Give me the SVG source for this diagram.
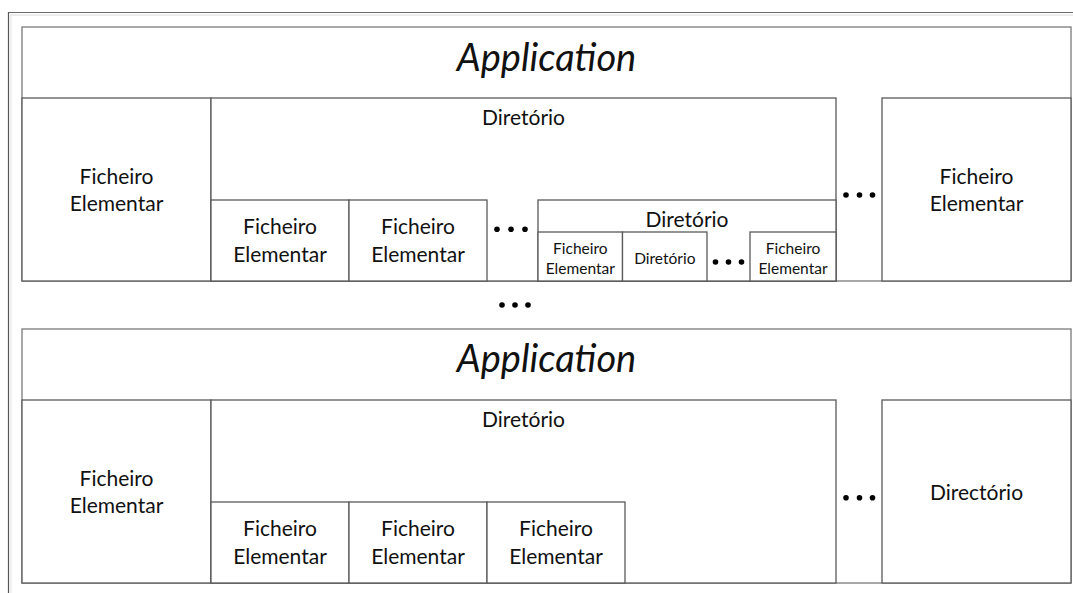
<svg xmlns="http://www.w3.org/2000/svg" width="1073" height="593" viewBox="0 0 1073 593">
<style>
.bx{fill:#fff;stroke:#5a5a5a;stroke-width:1.3}
.app{fill:#fff;stroke:#7a7a7a;stroke-width:1.3}
.t{font-family:Lato,"Liberation Sans",sans-serif;font-size:21px;fill:#111;text-anchor:middle}
.s{font-family:Lato,"Liberation Sans",sans-serif;font-size:15.5px;fill:#111;text-anchor:middle}
.a{font-family:Lato,"Liberation Sans",sans-serif;font-size:38px;font-style:italic;fill:#111;text-anchor:middle}
.d{fill:#000}
</style>
<rect width="1073" height="593" fill="#fff"/>
<g id="frame">
<line x1="8" y1="12.5" x2="1073" y2="12.5" stroke="#6a6a6a" stroke-width="1.2"/>
<line x1="10" y1="15" x2="1073" y2="15" stroke="#e6e6e6" stroke-width="1.5"/>
<line x1="8.5" y1="12" x2="8.5" y2="593" stroke="#555" stroke-width="1.2"/>
<line x1="11" y1="15" x2="11" y2="593" stroke="#ececec" stroke-width="1.5"/>
</g>

<g id="app1">
<rect class="app" x="22" y="27" width="1049" height="254"/>
<text class="a" x="546.5" y="71">Application</text>
</g>
<g id="app1-fe-left">
<rect class="bx" x="22" y="98" width="189" height="183"/>
<text class="t" x="116.5" y="183.5">Ficheiro</text>
<text class="t" x="116.5" y="211">Elementar</text>
</g>
<g id="app1-dir">
<rect class="bx" x="211" y="98" width="625" height="183"/>
<text class="t" x="523.5" y="125">Diretório</text>
</g>
<g id="app1-dir-fe1">
<rect class="bx" x="211" y="200" width="138" height="81"/>
<text class="t" x="280" y="234">Ficheiro</text>
<text class="t" x="280" y="261.5">Elementar</text>
</g>
<g id="app1-dir-fe2">
<rect class="bx" x="349" y="200" width="138" height="81"/>
<text class="t" x="418" y="234">Ficheiro</text>
<text class="t" x="418" y="261.5">Elementar</text>
</g>
<g id="app1-subdir">
<rect class="bx" x="538" y="200" width="298" height="81"/>
<text class="t" x="687" y="227">Diretório</text>
</g>
<g id="app1-subdir-fe1">
<rect class="bx" x="538" y="232" width="84.5" height="49"/>
<text class="s" x="580.3" y="253.5">Ficheiro</text>
<text class="s" x="580.3" y="273.5">Elementar</text>
</g>
<g id="app1-subdir-dir">
<rect class="bx" x="622.5" y="232" width="84.5" height="49"/>
<text class="s" x="664.8" y="263.5">Diretório</text>
</g>
<g id="app1-subdir-fe2">
<rect class="bx" x="750" y="232" width="86" height="49"/>
<text class="s" x="793" y="253.5">Ficheiro</text>
<text class="s" x="793" y="273.5">Elementar</text>
</g>
<g id="app1-fe-right">
<rect class="bx" x="882" y="98" width="189" height="183"/>
<text class="t" x="976.5" y="183.5">Ficheiro</text>
<text class="t" x="976.5" y="211">Elementar</text>
</g>

<g id="app2">
<rect class="app" x="22" y="329" width="1049" height="254"/>
<text class="a" x="546.5" y="372">Application</text>
</g>
<g id="app2-fe-left">
<rect class="bx" x="22" y="400" width="189" height="183"/>
<text class="t" x="116.5" y="486">Ficheiro</text>
<text class="t" x="116.5" y="513">Elementar</text>
</g>
<g id="app2-dir">
<rect class="bx" x="211" y="400" width="625" height="183"/>
<text class="t" x="523.5" y="427">Diretório</text>
</g>
<g id="app2-dir-fe1">
<rect class="bx" x="211" y="502" width="138" height="81"/>
<text class="t" x="280" y="536">Ficheiro</text>
<text class="t" x="280" y="563.5">Elementar</text>
</g>
<g id="app2-dir-fe2">
<rect class="bx" x="349" y="502" width="138" height="81"/>
<text class="t" x="418" y="536">Ficheiro</text>
<text class="t" x="418" y="563.5">Elementar</text>
</g>
<g id="app2-dir-fe3">
<rect class="bx" x="487" y="502" width="138" height="81"/>
<text class="t" x="556" y="536">Ficheiro</text>
<text class="t" x="556" y="563.5">Elementar</text>
</g>
<g id="app2-dir-right">
<rect class="bx" x="882" y="400" width="189" height="183"/>
<text class="t" x="976.5" y="499.5">Directório</text>
</g>

<g id="connectors">
<g id="ellipsis-1"><circle class="d" cx="497" cy="229.3" r="2.8"/><circle class="d" cx="511" cy="229.3" r="2.8"/><circle class="d" cx="525" cy="229.3" r="2.8"/></g>
<g id="ellipsis-2"><circle class="d" cx="846" cy="195" r="2.8"/><circle class="d" cx="859.5" cy="195" r="2.8"/><circle class="d" cx="872.5" cy="195" r="2.8"/></g>
<g id="ellipsis-3"><circle class="d" cx="715.5" cy="262" r="2.8"/><circle class="d" cx="728.5" cy="262" r="2.8"/><circle class="d" cx="741.5" cy="262" r="2.8"/></g>
<g id="ellipsis-4"><circle class="d" cx="502" cy="305" r="2.8"/><circle class="d" cx="515" cy="305" r="2.8"/><circle class="d" cx="528" cy="305" r="2.8"/></g>
<g id="ellipsis-5"><circle class="d" cx="846" cy="497.7" r="2.8"/><circle class="d" cx="859.5" cy="497.7" r="2.8"/><circle class="d" cx="872.5" cy="497.7" r="2.8"/></g>
</g>
</svg>
